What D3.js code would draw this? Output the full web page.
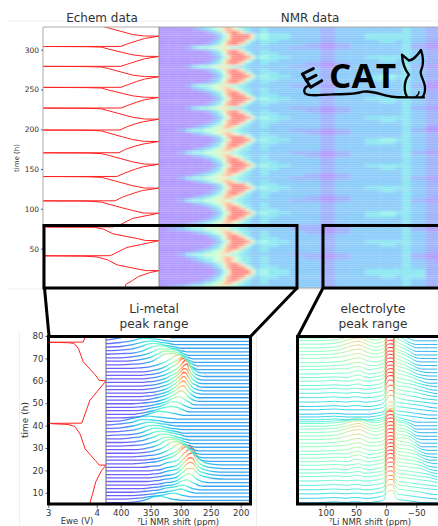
<!DOCTYPE html>
<html>
<head>
<meta charset="utf-8">
<script src="https://cdn.jsdelivr.net/npm/d3@7"></script>
<style>
  html, body { margin: 0; padding: 0; background: #fff; overflow: hidden; }
  text { font-family: "DejaVu Sans", sans-serif; fill: #333; }
</style>
</head>
<body>
<div id="chart"></div>
<script>
// echem trace, time (h) and Ewe (V)
const echemTime = [0,5,10,15,20,22.3,22.4,24.4,29.6,36,39.6,40.5,40.9,41,41.1,51.4,55,60,60.2,62.6,68.5,74.5,76.7,77,77.2,77.3,79.6,80.5,88,94.5,
  94.6,97,101,105,108.5,109.7,110,110.1,115,120,123,126,126.2,129,133,137,139.5,140.3,140.6,140.7,145,150,153,156,
  156.2,159,163,167,169.4,170.1,170.4,170.5,175,179,181.5,184.6,184.8,187,191,195,198,198.7,199,199.1,203,207,209.5,212.7,
  212.9,215,219,223,225.7,226.3,226.6,226.7,230,234,237,240,240.2,242,245.5,249,251.8,252.3,252.6,252.7,256,260,263,266,
  266.2,268,272,276,278.2,278.7,279,279.1,282,285.5,288.5,291.5,291.7,293.5,297,300.5,303.2,303.7,304,304.1,307.5,311,314,317,
  317.2,319,323,327,329];
const echemVolt = [3.84,3.85,3.92,3.98,4.1,4.19,4.05,3.97,3.76,3.66,3.55,3.41,3.03,3,3.69,3.86,4,4.19,4.05,3.97,3.72,3.62,3.53,3.41,3.03,3.72,3.76,3.8,3.92,4.19,
  4.04,3.95,3.82,3.7,3.6,3.45,3,3.74,3.82,3.94,4.02,4.19,4.04,3.92,3.8,3.68,3.6,3.45,3,3.76,3.84,3.95,4.03,4.19,
  4.04,3.92,3.8,3.68,3.6,3.45,3,3.78,3.85,3.95,4.03,4.19,4.04,3.92,3.8,3.68,3.6,3.45,3,3.79,3.86,3.95,4.03,4.19,
  4.04,3.92,3.8,3.68,3.6,3.45,3,3.8,3.87,3.96,4.04,4.19,4.04,3.92,3.8,3.68,3.6,3.45,3,3.8,3.87,3.96,4.04,4.19,
  4.04,3.92,3.8,3.68,3.6,3.45,3,3.8,3.87,3.96,4.04,4.19,4.04,3.92,3.8,3.68,3.6,3.45,3,3.8,3.87,3.96,4.04,4.19,
  4.04,3.92,3.8,3.68,3.62];

// overview heatmap: left edge of each column in ppm, rows run down from 328 h in 4 h steps
const heatPpm = [430,414,398,383,372,362,351,341,334,327,320,313,306,299,292,285,278,271,264,254,240,223,202,176,150,123,97,71,45,19,7,-7,-33];
const heatLevels = [0.06,0.13,0.2,0.3,0.39,0.55,0.67,0.78,0.88,0.97];
const heatRows = [
  "000012345 5787543322 32222122222321",
  "000000123 4689974322 32222122222321",
  "000000001 2469999963 43322122333321",
  "000000001 2469999963 43322122333321",
  "000000012 3589998532 33222122232321",
  "000000123 4689974322 32221012222310",
  "000134455 6654433222 22211012222310",
  "000000123 4689974322 32222122222321",
  "000000012 3589998532 33222122222321",
  "000000001 2469999963 43322122333321",
  "000000012 3589998532 33222122232321",
  "000000123 4689974322 32221012222321",
  "000134455 6654433222 22211012222310",
  "000000123 4689974322 32222122222321",
  "000000012 3589998532 33222122222321",
  "000000001 2469999963 43322122343321",
  "000000012 3589998532 33222122332321",
  "000000123 4689974322 32222122222320",
  "000134455 6654433222 22211012222310",
  "000012345 5787543322 32222122222320",
  "000000123 4689974322 32222122222321",
  "000000012 3589998532 33222122222321",
  "000000001 2469999963 43322122333321",
  "000000012 3589998532 33222122232321",
  "000000123 4689974322 32222122222321",
  "000134455 6654433222 22211012222310",
  "000000123 4689974322 32221012222321",
  "000000012 3589998532 33222122222321",
  "000000001 2469999963 43322122333321",
  "000000012 3589998532 33222122232321",
  "000000123 4689974322 32222122222321",
  "000012345 5787543322 32222122222320",
  "001344555 6654433222 22211012222310",
  "000012345 5787543322 32221012222321",
  "000000012 3589998532 33222122222321",
  "000000001 2469999963 43322122343321",
  "000000012 3589998532 33222122332321",
  "000000123 4689974322 32222122222321",
  "000012345 5787543322 32222122222321",
  "001344555 6654433222 22211012222310",
  "000012345 5787543322 32221012222321",
  "000000123 4689974322 32222122222321",
  "000000012 3589998532 33222122222321",
  "000000001 2469999963 43322122333321",
  "000000012 3589998532 33222122232321",
  "000000123 4689974322 32222122222321",
  "000012345 5787543322 32221012222321",
  "001344555 6654433222 22211012222310",
  "000012345 5787543322 32222122222321",
  "000000012 3589998532 33222122222321",
  "000000001 2469999963 43322122333321",
  "000000012 3589998532 33222122232321",
  "000000123 4689974322 32222122222321",
  "000012345 5787543322 32221012222321",
  "001344555 6654433222 22211012222310",
  "000012345 5787543322 32222122222321",
  "000000123 4689974322 32222122222321",
  "000000012 3589998532 33222122222321",
  "000000001 2469999963 43322122343321",
  "000000012 3589998532 33222122332321",
  "000000123 4689974322 32222122222321",
  "000012345 5787543322 32222122222321",
  "001344555 6654433222 22211012222310",
  "012344555 6654433222 22211012222310",
  "000012345 5787543322 32221012222321",
  "000000123 4689974322 32222122222321",
  "000000012 3589998532 33222122222321",
  "000000001 2469999963 43322122333321",
  "000000012 3589998532 33222122232321",
  "000000123 4689974322 32222122222321",
  "000012345 5787543322 32222122222321",
  "001344555 6654433222 22211012222310",
  "000123445 5787543322 32221012222310",
  "000012345 5787543322 32222122222321",
  "000000123 4689974322 32222122222321",
  "000000012 3589998532 33222122222321",
  "000000001 2469999963 43322122333331",
  "000000001 2469999963 43322122333331",
  "000000012 3589998532 33222122232331",
  "000000123 4689974322 32222122222321",
  "000012345 5787543322 32222122222321",
  "012344555 6654433222 22222122222321"
];

// waterfall spectra, one string per time, one base-36 digit per column
const ridgeTimes = [5.5,7.1,8.7,10.2,11.8,13.4,15,16.6,18.1,19.7,21.3,22.9,24.5,26,27.6,29.2,30.8,32.4,34,35.5,37.1,38.7,40.2,41.8,43.4,45,46.6,48.1,49.7,51.3,52.9,54.4,56,57.6,59.2,60.8,62.4,63.9,65.5,67.1,68.7,70.2,71.8,73.4,75,76.5,78.1,79.7];
const liPpm = [425,400,380,365,355,345,335,325,315,305,300,295,290,285,280,275,270,260,245,225,185];
const liRows = [
  "33469dec9877777777777","3345789bdca9877777777","33345689bdedb98777777","3334567abdefdb9877777",
  "333345689cfhigdb87777","333334578bfilmjeb8777","333334578bgjoppkfb877","333334578cglqtsmfb877",
  "33333458achmrvumgb877","33333458adinswxohb877","3333456acfkquzzrjb877","3334568bekpuwyqhb8777",
  "3333457aejosqkfb87777","3334568chopokfb987777","333457afmmkheb9877777","333468cikigdb98777777",
  "33457aeihfdb987777777","33469cghfcb9877777777","3357aegfdba8777777777","3458cffdb987777777777",
  "346adedb9877777777777","347bddba8777777777777","358ccba87777777777777","348bcba98777777777777",
  "33469cedb987777777777","333579cfgeca877777777","333468aeihfca87777777","3334579chlkheb8777777",
  "3334568bgmpnida877777","3333468bgmqrlfb877777","3333457afmrtogc987777","3333457afmrvqica87777",
  "3333457afmrwtkdb87777","3333457afmrwvmeb87777","3333457aflqvynfb87777","3333457aflqwzqgb97777",
  "3333457bhntvrjeb87777","3333468cinrsmfb877777","333457aekppnhda877777","33457aglmkifca8777777",
  "33468chkjhfca87777777","3357aeiihfca877777777","3458cghgdb98777777777","346aefeca877777777777",
  "347bddba8777777777777","358ccba87777777777777","37abba987777777777777","479a99877777777777777"
];
const elecPpm = [147,115,85,65,55,45,37,28,18,10,3,-1,-6,-11,-15,-20,-30,-40,-50,-60,-72,-85];
const elecRows = [
  "99a9aa99abdmoohdcba999","aababbaabceprrjfedcba9","bbcbccbbcdfrttlhgfedba","ccdcddccdegsuumihgfedc",
  "ddedeeddefhtvvmihgfedc","eefeffeefgiuwwnjihgfec","ffgfghffghjvxxnjihgfeb","ffgfghffghjwyynjihgfda",
  "ffgfhigfghjxzzokjihgca","gghghigghikxzzokjihfb9","gghgijhghikxzzokjihea9","gghhjkighikxzzokjigda9",
  "gghhjkighikxzzokjigc99","gghikljhhikxzzokjifb98","hhijlmkiijlxzzokjiea88","hhikmnliijlxzzokjhd988",
  "hhilnomjijlxzznjjhc888","hhimopnkijlxzznjigb888","hhimopnkijlxzznjifa888","hhilnomjijlxzzmjhe9888",
  "gghkmnlihikxzzmihd9888","ffgikljhghjtvvlhgc8888","ddefhigeefhqsrhfeb8888","bbcbbbbbcdfnppgeca8888",
  "aabaaaaabceloofdcba988","99a99999abdloofdcba988","aabaaaaabcenssgedcba98","aababbaabcfpuuhfedcb98",
  "bbcbccbbcdgswwigedcba9","ccdcddccdehuyyjhgedba9","ddedeeddefixzzkigfeca9","eefeffeefgjxzzkihgeca8",
  "eefefgeefgjxzzljhgec98","ffgfghffghkxzzljhgdb98","ffgfhigfghkxzzmkigda88","ffggijhfghkxzzmkifca88",
  "gghhjkighikxzzmkifb988","gghikljhhikxzzmkieb988","gghjlmkihikxzzmkhea888","hhikmnljijlxzzmkhd9888",
  "hhilnomjijlxzzmkhd9888","hhimopnkijlxzzmjgc9888","hhimopnkijlxzzljgc8888","hhimopnkijlxzzljfb8888",
  "hhilnomjijlxzzljfb8888","gghkmnlihikxzzkjea8888","ffgikljhghjxzzkiea8888","ffghjkhgghjwyyjid98888"
];

const overviewTicks = [50, 100, 150, 200, 250, 300];
const zoomTimeTicks = [10, 20, 30, 40, 50, 60, 70, 80];
const voltTicks = [3, 4];
const liTicks = [400, 350, 300, 250, 200];
const elecTicks = [100, 50, 0, -50];

const width = 438, height = 526;

// same colormap as matplotlib's rainbow
const rainbow = v => d3.rgb(
    255 * Math.min(1, Math.abs(2 * v - 0.5)),
    255 * Math.sin(Math.PI * v),
    255 * Math.cos(Math.PI * v / 2)
).formatHex();

const svg = d3.select("#chart").append("svg")
    .attr("width", width)
    .attr("height", height)
    .style("display", "block");
const defs = svg.append("defs");

// faint sheet edges left in the source image
[[7, 21, 438, 21], [7, 289, 438, 289], [19.5, 332, 19.5, 526], [256.5, 332, 256.5, 526]].forEach(d => {
    svg.append("line").attr("x1", d[0]).attr("y1", d[1]).attr("x2", d[2]).attr("y2", d[3])
        .attr("stroke", "#eee").attr("stroke-width", 1);
});

// ---- overview ----
const topY = d3.scaleLinear().domain([0, 328.5]).range([288.4, 27]);
const topVolt = d3.scaleLinear().domain([3, 4.19]).range([43, 159]);
const topPpm = d3.scaleLinear().domain([430, -57]).range([159, 439]);

defs.append("clipPath").attr("id", "clip-heat").append("rect")
    .attr("x", 159).attr("y", 27).attr("width", 279).attr("height", 261);
const blur = defs.append("filter").attr("id", "soft")
    .attr("x", "-5%").attr("y", "-5%").attr("width", "110%").attr("height", "110%");
blur.append("feGaussianBlur").attr("stdDeviation", "1.6 0.8");

const stripes = defs.append("pattern").attr("id", "stripes")
    .attr("patternUnits", "userSpaceOnUse").attr("width", 4).attr("height", 2.2);
stripes.append("rect").attr("width", 4).attr("height", 0.8).attr("fill", "#fff").attr("opacity", 0.2);

const heatClip = svg.append("g").attr("clip-path", "url(#clip-heat)");
const heat = heatClip.append("g").attr("filter", "url(#soft)").attr("opacity", 0.5);
const heatEdges = heatPpm.concat([-57]);
heatRows.forEach((row, i) => {
    const chars = row.replace(/ /g, "").split("");
    const y0 = topY(328.5 - 4 * i), y1 = topY(328.5 - 4 * (i + 1));
    heat.selectAll(null)
        .data(chars)
        .enter()
        .append("rect")
        .attr("x", (d, j) => topPpm(heatEdges[j]) - (j === 0 ? 8 : 0))
        .attr("width", (d, j) => topPpm(heatEdges[j + 1]) - topPpm(heatEdges[j]) + (j === 0 ? 8 : 0) + (j === chars.length - 1 ? 8 : 0) + 0.3)
        .attr("y", y0 - (i === 0 ? 6 : 0))
        .attr("height", y1 - y0 + (i === 0 || i === heatRows.length - 1 ? 6 : 0) + 0.3)
        .attr("fill", d => rainbow(heatLevels[+d]));
});
heatClip.append("rect").attr("x", 159).attr("y", 27).attr("width", 279).attr("height", 261)
    .attr("fill", "url(#stripes)");

const echemPoints = echemTime.map((t, i) => [t, echemVolt[i]]);

defs.append("clipPath").attr("id", "clip-echem-top").append("rect")
    .attr("x", 43).attr("y", 27).attr("width", 116).attr("height", 261);
svg.append("path")
    .attr("clip-path", "url(#clip-echem-top)")
    .attr("d", d3.line().x(d => topVolt(d[1])).y(d => topY(d[0]))(echemPoints))
    .attr("fill", "none").attr("stroke", "#f22").attr("stroke-width", 1);

svg.append("path").attr("d", "M43,27H438M43,27V288M43,288H438")
    .attr("fill", "none").attr("stroke", "#aaa").attr("stroke-width", 1);
svg.append("line").attr("x1", 159).attr("x2", 159).attr("y1", 27).attr("y2", 288)
    .attr("stroke", "#888").attr("stroke-width", 1);

const styleAxis = (g, size) => {
    g.select(".domain").remove();
    g.selectAll("line").attr("stroke", "#444").attr("stroke-width", 0.8);
    g.selectAll("text").attr("font-size", size).style("fill", "#333");
};

svg.append("g").attr("transform", "translate(43,0)")
    .call(d3.axisLeft(topY).tickValues(overviewTicks).tickSize(2).tickPadding(2))
    .call(styleAxis, 7.5);

const label = (x, y, txt, size, rotate) => {
    const t = svg.append("text")
        .attr("text-anchor", "middle")
        .attr("font-size", size)
        .text(txt);
    t.attr("transform", `translate(${x},${y})` + (rotate ? " rotate(-90)" : ""));
    return t;
};

label(102, 22, "Echem data", 12);
label(310, 22, "NMR data", 12);
label(19, 158, "time (h)", 7, true);
label(154, 313, "Li-metal", 12.2);
label(154, 328, "peak range", 12.2);
label(373, 313, "electrolyte", 12.2);
label(373, 328, "peak range", 12.2);
label(28, 420, "time (h)", 9, true);
label(77, 524, "Ewe (V)", 8.5);
label(178, 525, "\u2077Li NMR shift (ppm)", 8.5);
label(370, 525, "\u2077Li NMR shift (ppm)", 8.5);

// logo, sketched in 3x coordinates over the heatmap
const logo = svg.append("g").attr("transform", "translate(295,40) scale(0.3333)")
    .attr("fill", "none").attr("stroke", "#000").attr("stroke-width", 7)
    .attr("stroke-linecap", "round").attr("stroke-linejoin", "round");
logo.append("path").attr("d", "M22,102 L55,86 M22,102 L47,142 L80,122 M33,121 L63,106").attr("stroke-width", 9);
logo.append("path").attr("d", "M42,137 C30,140 24,150 30,160 C45,172 80,163 110,163 C150,162 170,165 205,155 C240,150 265,170 300,171 C325,173 360,172 387,172");
logo.append("path").attr("d", "M335,168 C325,150 328,120 342,104 C330,90 322,65 321,44 L342,62 C352,60 365,50 378,30 C385,50 388,70 378,92 C372,102 388,120 390,140 C391,155 388,165 382,171");
logo.append("path").attr("d", "M362,170 C372,165 372,160 372,155").attr("stroke-width", 4);
svg.append("text")
    .attr("x", 329).attr("y", 87.5)
    .attr("textLength", 67).attr("lengthAdjust", "spacingAndGlyphs")
    .style("font-family", "'Open Sans', sans-serif")
    .style("font-weight", 700)
    .style("fill", "#000")
    .attr("font-size", 34)
    .text("CAT");

// ---- zoomed panels ----
const zoomY = d3.scaleLinear().domain([5, 80]).range([504, 336]);
const zoomVolt = d3.scaleLinear().domain([3, 4.19]).range([48.3, 106]);
const liX = d3.scaleLinear().domain([400, 200]).range([120.7, 240.7]);
const elecX = d3.scaleLinear().domain([100, -50]).range([325.7, 416.3]);

defs.append("clipPath").attr("id", "clip-echem").append("rect")
    .attr("x", 48.3).attr("y", 336).attr("width", 57.7).attr("height", 168);
defs.append("clipPath").attr("id", "clip-li").append("rect")
    .attr("x", 106).attr("y", 336).attr("width", 144.5).attr("height", 168);
defs.append("clipPath").attr("id", "clip-elec").append("rect")
    .attr("x", 297).attr("y", 336).attr("width", 145).attr("height", 168);

svg.append("path")
    .attr("clip-path", "url(#clip-echem)")
    .attr("d", d3.line().x(d => zoomVolt(d[1])).y(d => zoomY(d[0]))(echemPoints))
    .attr("fill", "none").attr("stroke", "#f22").attr("stroke-width", 1);

const drawWaterfall = (name, rows, ppm, x, clipId, gain, ref, sw, alpha) => {
    const layer = svg.append("g").attr("clip-path", `url(#${clipId})`);
    const xs = ppm.map(p => x(p));
    const x0 = xs[0], x1 = xs[xs.length - 1];
    rows.forEach((row, i) => {
        const vals = row.split("").map(c => parseInt(c, 36) / 35);
        const gradId = `${name}-${i}`;
        const grad = defs.append("linearGradient").attr("id", gradId)
            .attr("gradientUnits", "userSpaceOnUse")
            .attr("x1", x0).attr("x2", x1).attr("y1", 0).attr("y2", 0);
        vals.forEach((v, j) => {
            grad.append("stop")
                .attr("offset", (xs[j] - x0) / (x1 - x0))
                .attr("stop-color", rainbow(v));
        });
        const line = d3.line()
            .x((v, j) => xs[j])
            .y(v => zoomY(ridgeTimes[i]) - gain * (v - ref))
            .curve(d3.curveMonotoneX);
        layer.append("path")
            .attr("d", line(vals))
            .attr("fill", "none")
            .attr("stroke", `url(#${gradId})`)
            .attr("stroke-width", sw)
            .attr("opacity", alpha);
    });
};

drawWaterfall("li", liRows, liPpm, liX, "clip-li", 21, 0.08, 1.3, 0.85);
drawWaterfall("elec", elecRows, elecPpm, elecX, "clip-elec", 28, 0.25, 1, 0.85);

svg.append("line").attr("x1", 106).attr("x2", 106).attr("y1", 336).attr("y2", 504)
    .attr("stroke", "#667").attr("stroke-width", 1);

// panel ticks
svg.append("g").attr("transform", "translate(48.3,0)")
    .call(d3.axisLeft(zoomY).tickValues(zoomTimeTicks).tickSize(3).tickPadding(2))
    .call(styleAxis, 8.5);
svg.append("g").attr("transform", "translate(0,505)")
    .call(d3.axisBottom(zoomVolt).tickValues(voltTicks).tickFormat(d3.format("d")).tickSize(3).tickPadding(2))
    .call(styleAxis, 8.5);
svg.append("g").attr("transform", "translate(0,505)")
    .call(d3.axisBottom(liX).tickValues(liTicks).tickSize(3).tickPadding(2))
    .call(styleAxis, 8.5);
svg.append("g").attr("transform", "translate(0,505)")
    .call(d3.axisBottom(elecX).tickValues(elecTicks).tickFormat(d => d < 0 ? "\u2212" + (-d) : d).tickSize(3).tickPadding(2))
    .call(styleAxis, 8.5);

// thick boxes and the connectors between them
const thick = svg.append("g").attr("fill", "none").attr("stroke", "#000").attr("stroke-width", 3);
thick.append("rect").attr("x", 44).attr("y", 225.5).attr("width", 253).attr("height", 62.5);
thick.append("rect").attr("x", 323).attr("y", 225.5).attr("width", 130).attr("height", 62.5);
thick.append("rect").attr("x", 48.5).attr("y", 336.5).attr("width", 202).attr("height", 167.5);
thick.append("rect").attr("x", 297.5).attr("y", 336.5).attr("width", 160).attr("height", 167.5);
thick.append("path").attr("d", "M44.5,288 L49,336 M297,288 L251,336 M323,288 L298,336");
</script>
</body>
</html>
